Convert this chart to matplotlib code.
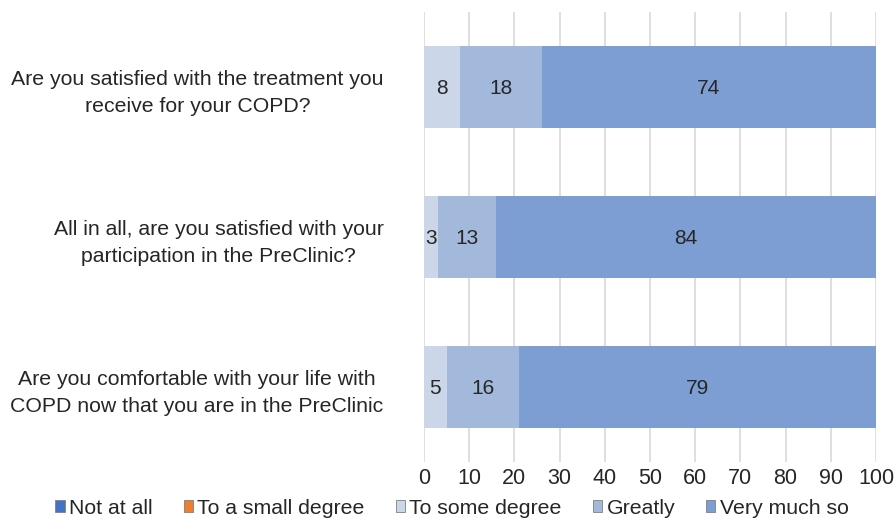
import matplotlib.pyplot as plt
from matplotlib.patches import Patch
import numpy as np

plt.rcParams['font.family'] = ['Liberation Sans', 'DejaVu Sans']

questions = [
    'Are you satisfied with the treatment you\nreceive for your COPD?',
    'All in all, are you satisfied with your\nparticipation in the PreClinic?',
    'Are you comfortable with your life with\nCOPD now that you are in the PreClinic',
]
series = ['Not at all', 'To a small degree', 'To some degree', 'Greatly', 'Very much so']
not_at_all = [0, 0, 0]
small_degree = [0, 0, 0]
some_degree = [8, 3, 5]
greatly = [18, 13, 16]
very_much = [74, 84, 79]

colors = ['#4472c4', '#ed7d31', '#cbd7e9', '#a2b9dc', '#7d9ed2']
values = [not_at_all, small_degree, some_degree, greatly, very_much]
txt = '#262626'

fig = plt.figure(figsize=(8.95, 5.2), dpi=100)
ax = fig.add_axes([424 / 895, 1 - 462 / 520, 452 / 895, 450 / 520])

y = np.arange(len(questions))
left = np.zeros(len(questions))
for name, vals, col in zip(series, values, colors):
    vals = np.array(vals, dtype=float)
    ax.barh(y, vals, left=left, height=0.545, color=col, zorder=2)
    for yi, (l, v) in enumerate(zip(left, vals)):
        if v > 0:
            ax.text(l + v / 2, yi + 0.01, f'{v:.0f}', ha='center', va='center',
                    fontsize=15, color=txt, zorder=3)
    left += vals

ax.set_xlim(0, 100)
ax.set_ylim(2.5, -0.5)
ax.set_xticks(range(0, 101, 10))
ax.set_yticks(y)
ax.set_yticklabels(questions, multialignment='center', linespacing=1.55)
ax.tick_params(axis='y', length=0, pad=29, labelsize=15.3, labelcolor=txt)
ax.tick_params(axis='x', length=0, pad=4, labelsize=15.5, labelcolor=txt)
ax.grid(axis='x', color='#d9d9d9', linewidth=1.2, zorder=0)
for s in ax.spines.values():
    s.set_visible(False)

handles = [Patch(facecolor=c, edgecolor='#7f7f7f', linewidth=0.6) for c in colors]
leg = fig.legend(handles, series, loc='center', bbox_to_anchor=(452 / 895, 1 - 508 / 520),
                 ncol=5, frameon=False, fontsize=15.3, handlelength=0.45, handleheight=0.45,
                 handletextpad=0.2, columnspacing=1.45, borderaxespad=0)
for t in leg.get_texts():
    t.set_color(txt)

fig.savefig('out.png', dpi=100)
